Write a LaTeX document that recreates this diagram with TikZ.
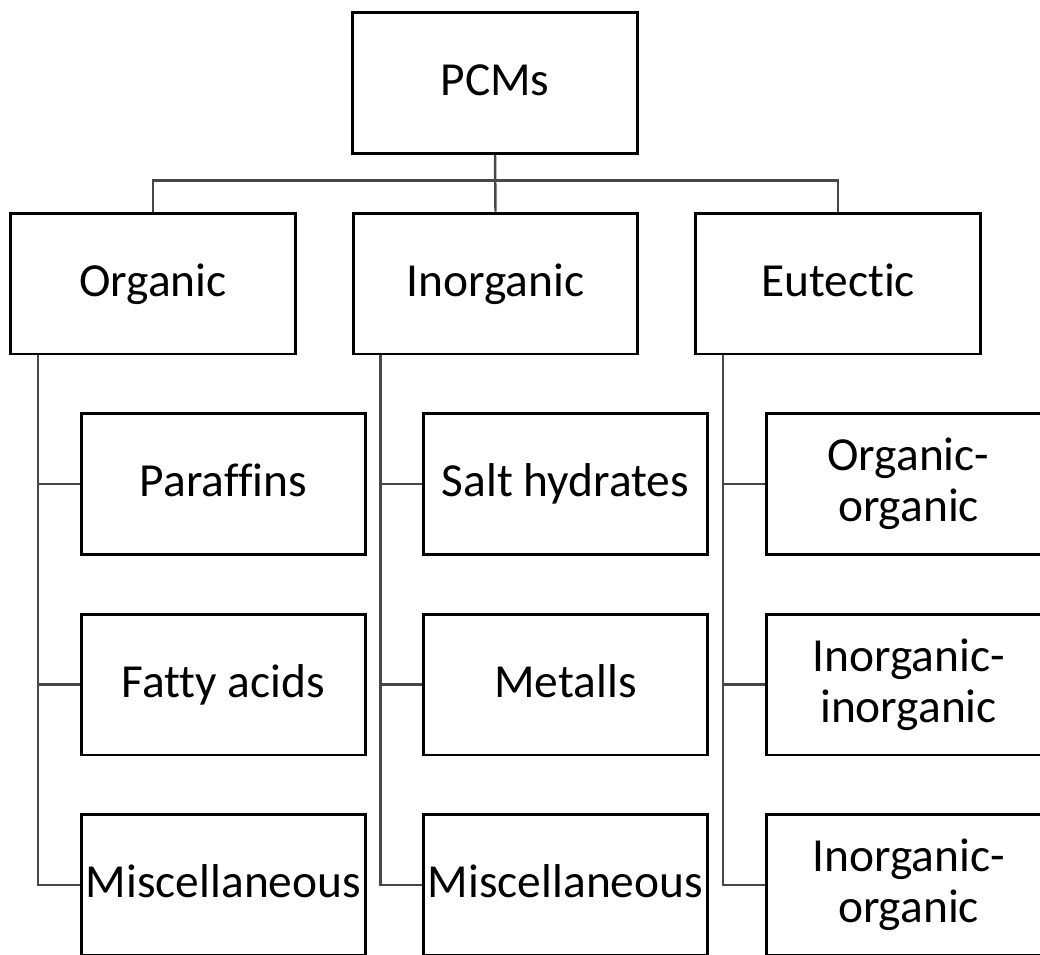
\documentclass[tikz,border=0pt]{standalone}
\usepackage{fontspec}
\setmainfont{Carlito}[Ligatures=NoCommon]
\usepackage{tikz}
\usetikzlibrary{positioning}
\tikzset{
    box/.style = {draw,line width=1.7pt,minimum width=5.7cm,minimum height=2.82cm,
        inner sep=0,align=center,font=\fontsize{27}{29}\selectfont},
    onebox/.style = {box,text height=18pt,text depth=3.5pt},
    link/.style = {draw=black!72,line width=1.4pt}
}

\begin{document}
\begin{tikzpicture}[x=0.02cm,y=-0.02cm]
        \newcommand\hsep{342.5}
        \newcommand\vsep{200.5}
        \useasboundingbox (0,0) rectangle (1040,954);
        \clip (0,0) rectangle (1040,954);
        % Root
        \path node[onebox] (pcms) at (495,83) {PCMs}
        ;
        % Classes
        \path (153,283.5) node[onebox] (org) {Organic}
            ++(\hsep,0) node[onebox] (inorg) {Inorganic}
            ++(\hsep,0) node[onebox] (eut) {Eutectic}
        ;
        % Subclasses
        \path (223.5,484) node[onebox] (para) {Paraffins}
            ++(0,\vsep) node[onebox] (fatty) {Fatty acids}
            ++(0,\vsep) node[onebox] (miscorg) {Miscellaneous}
        ;
        \path (565.5,484) node[onebox] (salt) {Salt hydrates}
            ++(0,\vsep) node[onebox] (metal) {Metalls}
            ++(0,\vsep) node[onebox] (miscinorg) {Miscellaneous}
        ;
        \path (908.5,484) node[box] (oo) {Organic-\\organic}
            ++(0,\vsep) node[box] (ii) {Inorganic-\\inorganic}
            ++(0,\vsep) node[box] (io) {Inorganic-\\organic}
        ;
        % Tree
        \draw[link] (pcms.south) -- (inorg.north);
        \draw[link] (org.north) -- ++(0,-31) -| (eut.north);
        \foreach \cls/\kid in {org/para,org/fatty,org/miscorg,
                inorg/salt,inorg/metal,inorg/miscinorg,
                eut/oo,eut/ii,eut/io}
            \draw[link] (\cls.south west) ++(29,0) |- (\kid.west);
    \end{tikzpicture}
\end{document}
